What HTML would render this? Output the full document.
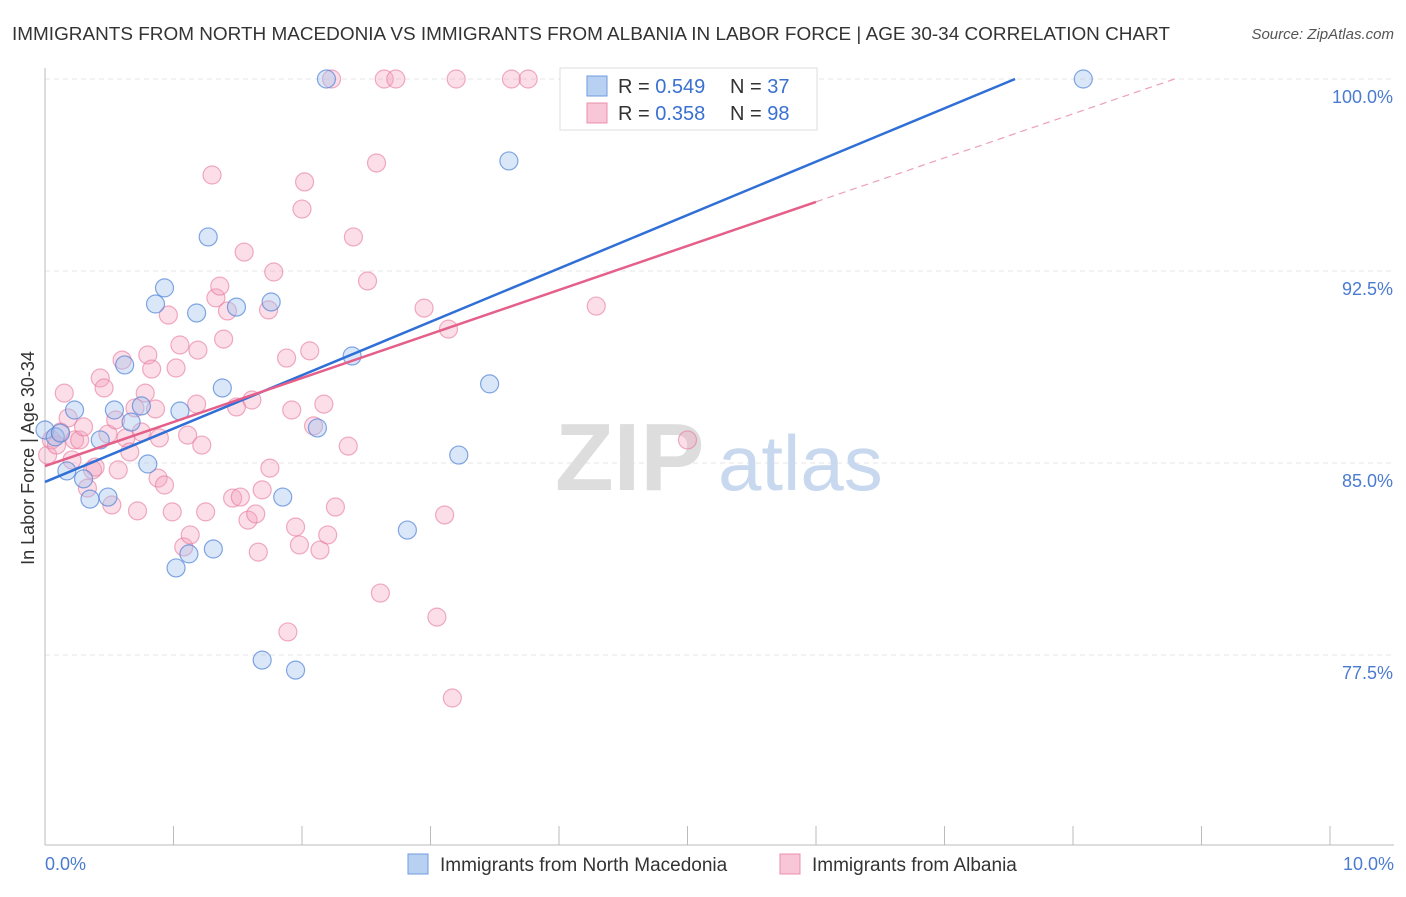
<!DOCTYPE html>
<html><head><meta charset="utf-8"><style>
body{margin:0;background:#fff;font-family:"Liberation Sans",sans-serif;}
svg text{font-family:"Liberation Sans",sans-serif;}
</style></head><body>
<svg id="chart" width="1406" height="892" xmlns="http://www.w3.org/2000/svg">
<text x="12" y="40" font-size="18" fill="#333" textLength="1158" lengthAdjust="spacingAndGlyphs">IMMIGRANTS FROM NORTH MACEDONIA VS IMMIGRANTS FROM ALBANIA IN LABOR FORCE | AGE 30-34 CORRELATION CHART</text>
<text x="1394" y="39" font-size="15" fill="#555" font-style="italic" text-anchor="end">Source: ZipAtlas.com</text>
<g id="grid"></g>
<g><text x="555" y="490" font-size="96" fill="#ddd" font-family="Liberation Serif" font-weight="bold">ZIP</text><text x="718" y="490" font-size="78" fill="#c8d8ee">atlas</text></g>
<g id="axes"></g>
<g id="pts"></g>
<g id="lines"></g>
<text transform="translate(34,458) rotate(-90)" font-size="18" fill="#333" text-anchor="middle">In Labor Force | Age 30-34</text>
<g>
<rect x="560" y="68" width="257" height="62" fill="#fff" stroke="#ddd"/>
<rect x="587" y="76" width="20" height="20" fill="#b8d0f2" stroke="#6f9be0"/>
<text x="618" y="93" font-size="20" fill="#333">R = <tspan fill="#3a70d0">0.549</tspan></text>
<text x="730" y="93" font-size="20" fill="#333">N = <tspan fill="#3a70d0">37</tspan></text>
<rect x="587" y="103" width="20" height="20" fill="#f8c6d6" stroke="#e890ad"/>
<text x="618" y="120" font-size="20" fill="#333">R = <tspan fill="#3a70d0">0.358</tspan></text>
<text x="730" y="120" font-size="20" fill="#333">N = <tspan fill="#3a70d0">98</tspan></text>
</g>
<g>
<rect x="408" y="854" width="20" height="20" fill="#b8d0f2" stroke="#6f9be0"/>
<text x="440" y="871" font-size="19" fill="#333">Immigrants from North Macedonia</text>
<rect x="780" y="854" width="20" height="20" fill="#f8c6d6" stroke="#e890ad"/>
<text x="812" y="871" font-size="19" fill="#333">Immigrants from Albania</text>
</g>
</svg>
<script>
const xTicks=[0,1,2,3,4,5,6,7,8,9,10];
const yTicks=[77.5,85,92.5,100];
const yTickLabels=["77.5%","85.0%","92.5%","100.0%"];
const blueX=[0.00,0.08,0.12,0.17,0.23,0.30,0.35,0.43,0.49,0.54,0.62,0.67,0.75,0.80,0.86,0.93,1.02,1.05,1.12,1.18,1.27,1.31,1.38,1.49,1.69,1.76,1.85,1.95,2.12,2.19,2.39,2.82,3.22,3.46,3.61,4.15,4.30,8.08];
const blueY=[86.29,86.02,86.17,84.69,87.07,84.38,83.59,85.90,83.67,87.07,88.83,86.60,87.23,84.96,91.21,91.84,80.90,87.03,81.45,90.86,93.83,81.64,87.93,91.09,77.30,91.29,83.67,76.91,86.37,100,89.18,82.38,85.31,88.09,96.80,100,99.84,100];
const pinkX=[0.02,0.05,0.09,0.12,0.15,0.18,0.21,0.23,0.27,0.30,0.33,0.37,0.39,0.43,0.46,0.49,0.52,0.55,0.57,0.60,0.63,0.66,0.70,0.72,0.75,0.78,0.80,0.83,0.86,0.88,0.89,0.93,0.96,0.99,1.02,1.05,1.08,1.11,1.13,1.18,1.19,1.22,1.25,1.30,1.33,1.36,1.39,1.42,1.46,1.49,1.52,1.55,1.58,1.61,1.64,1.66,1.69,1.74,1.75,1.78,1.88,1.89,1.92,1.95,1.98,2.00,2.02,2.06,2.09,2.14,2.17,2.20,2.23,2.26,2.36,2.40,2.51,2.58,2.61,2.64,2.73,2.95,3.05,3.11,3.14,3.17,3.20,3.63,3.76,4.29,5.00,5.22];
const pinkY=[85.31,85.90,85.70,86.21,87.73,86.76,85.12,85.90,85.90,86.41,84.02,84.73,84.84,88.32,87.93,86.13,83.36,86.68,84.73,89.02,85.98,85.43,87.15,83.13,86.21,87.73,89.22,88.67,87.11,84.41,85.98,84.14,90.78,83.09,88.71,89.61,81.72,86.09,82.19,87.30,89.41,85.70,83.09,96.25,91.45,91.91,89.84,90.94,83.63,87.19,83.67,93.24,82.77,87.46,83.01,81.52,83.95,90.98,84.80,92.46,89.10,78.40,87.07,82.50,81.80,94.92,95.98,89.38,86.45,81.60,87.30,82.19,100,83.28,85.66,93.83,92.11,96.72,79.92,100,100,91.05,78.98,82.97,90.23,75.82,100,100,100,91.13,85.90,100];
const blueFit=[84.26,2.085];
const pinkFit=[84.88,1.72];
const NS='http://www.w3.org/2000/svg';
const X=v=>45+v*128.5, Y=v=>79+(100-v)*25.6;
function mk(tag,attrs,parent){const e=document.createElementNS(NS,tag);for(const k in attrs)e.setAttribute(k,attrs[k]);parent.appendChild(e);return e;}
const grid=document.getElementById('grid'),axes=document.getElementById('axes'),pts=document.getElementById('pts'),lines=document.getElementById('lines');
yTicks.forEach((t,i)=>{
 const l=mk('line',{x1:45,x2:1394,y1:Y(t),y2:Y(t),stroke:'#e4e4e4','stroke-dasharray':'5,4'},grid);
 
 
 const tx=mk('text',{x:1393,y:Y(t)+24,'font-size':18,fill:'#4a7bd0','text-anchor':'end'},axes);
 tx.textContent=yTickLabels[i];
 
 
});
mk('line',{x1:45,x2:45,y1:68,y2:845,stroke:'#bbb'},axes);
mk('line',{x1:45,x2:1394,y1:845,y2:845,stroke:'#bbb'},axes);
xTicks.forEach(t=>{
 const l=mk('line',{x1:X(t),x2:X(t),y1:826,y2:845,stroke:'#bbb'},axes);
 
 
});
const x0=mk('text',{x:45,y:870,'font-size':18,fill:'#4a7bd0'},axes);x0.textContent='0.0%';


const x1=mk('text',{x:1394,y:870,'font-size':18,fill:'#4a7bd0','text-anchor':'end'},axes);x1.textContent='10.0%';


pinkX.forEach((v,i)=>{
 const c=mk('circle',{cx:X(v),cy:Y(pinkY[i]),r:9,fill:'rgba(244,160,188,0.35)',stroke:'rgba(230,120,155,0.6)','stroke-width':1.2},pts);
 
 
});
blueX.forEach((v,i)=>{
 const c=mk('circle',{cx:X(v),cy:Y(blueY[i]),r:9,fill:'rgba(160,195,240,0.4)',stroke:'rgba(80,130,215,0.7)','stroke-width':1.2},pts);
 
 
});
const bEnd=(100-blueFit[0])/blueFit[1];
const bl=mk('line',{x1:X(0),y1:Y(blueFit[0]),x2:X(bEnd),y2:Y(100),stroke:'#2f6fd6','stroke-width':2.5},lines);


const pEnd=(100-pinkFit[0])/pinkFit[1];
const pl=mk('line',{x1:X(0),y1:Y(pinkFit[0]),x2:X(6),y2:Y(pinkFit[0]+6*pinkFit[1]),stroke:'#e4608a','stroke-width':2.5},lines);


const pd=mk('line',{x1:X(6),y1:Y(pinkFit[0]+6*pinkFit[1]),x2:X(pEnd),y2:Y(100),stroke:'#eda0b8','stroke-width':1.2,'stroke-dasharray':'7,5'},lines);


</script>
</body></html>
